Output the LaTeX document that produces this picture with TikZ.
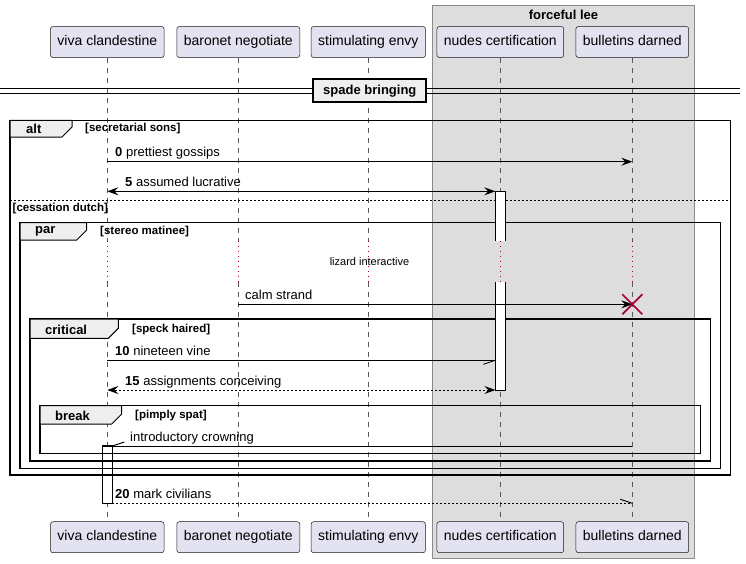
\documentclass[tikz,border=0pt]{standalone}
\usepackage{fontspec}
\setmainfont{Liberation Sans}
\usetikzlibrary{arrows.meta}

\definecolor{partfill}{HTML}{E2E2F0}
\definecolor{partline}{HTML}{181818}
\definecolor{groupfill}{HTML}{DDDDDD}
\definecolor{groupline}{HTML}{8A8A8A}
\definecolor{tabfill}{HTML}{EEEEEE}
\definecolor{crimson}{HTML}{A80036}

% lifeline positions
\def\lifeA{107.3}
\def\lifeB{238.3}
\def\lifeC{368.3}
\def\lifeD{500.3}
\def\lifeE{632.3}

\tikzset{
  pumltip/.tip={Stealth[length=11pt,width=8pt,inset=4pt]},
  participant/.style={draw=partline, fill=partfill, rounded corners=2.5pt,
    line width=0.5pt, minimum height=31pt, inner xsep=7pt, inner ysep=0pt,
    font=\fontsize{14}{16}\selectfont, text height=10pt, text depth=3pt},
  lifeline/.style={draw=black!65, line width=0.6pt, dash pattern=on 5pt off 5pt},
  delayline/.style={draw=crimson, line width=1pt, dash pattern=on 0.9pt off 4.1pt},
  msg/.style={draw=black, line width=0.9pt},
  retmsg/.style={msg, dash pattern=on 2pt off 2pt},
  barb/.style={draw=black, line width=0.9pt},
  msglabel/.style={font=\fontsize{13}{15}\selectfont, inner sep=0pt, anchor=base west},
  framebox/.style={draw=black, line width=1.5pt},
  tabshape/.style={draw=black, line width=1pt, fill=tabfill},
  framelabel/.style={font=\bfseries\fontsize{13}{15}\selectfont, inner sep=0pt, anchor=west},
  guard/.style={font=\bfseries\fontsize{11.5}{13}\selectfont, inner sep=0pt, anchor=west},
  activation/.style={fill=white},
  actedge/.style={draw=black, line width=0.9pt},
}

\begin{document}
\begin{tikzpicture}[x=1pt,y=-1pt]
\useasboundingbox (0,0) rectangle (746,563);

% box grouping the last two participants
\draw[fill=groupfill, draw=groupline, line width=0.8pt] (432.3,5.7) rectangle (694.7,558.3);
\node[font=\bfseries\fontsize{13}{15}\selectfont, inner sep=0pt] (grouptitle) at (563.5,15) {forceful lee};

% participants, top and bottom
\node[participant] (pA) at (\lifeA,42) {viva clandestine};
\node[participant] (pB) at (\lifeB,42) {baronet negotiate};
\node[participant] (pC) at (\lifeC,42) {stimulating envy};
\node[participant] (pD) at (\lifeD,42) {nudes certification};
\node[participant] (pE) at (\lifeE,42) {bulletins darned};
\node[participant] (qA) at (\lifeA,537.2) {viva clandestine};
\node[participant] (qB) at (\lifeB,537.2) {baronet negotiate};
\node[participant] (qC) at (\lifeC,537.2) {stimulating envy};
\node[participant] (qD) at (\lifeD,537.2) {nudes certification};
\node[participant] (qE) at (\lifeE,537.2) {bulletins darned};

% lifelines, with the delay drawn dotted
\foreach \p/\x in {A/\lifeA, B/\lifeB, C/\lifeC, D/\lifeD, E/\lifeE}{
  \coordinate (d\p1) at (\x,240.7);
  \coordinate (d\p2) at (\x,281.7);
  \draw[lifeline] (p\p.south) -- (d\p1);
  \draw[delayline] (d\p1) -- (d\p2);
  \draw[lifeline] (d\p2) -- (q\p.north);
}

% divider
\node[draw=black, line width=2pt, fill=tabfill, minimum width=113pt, minimum height=23pt,
      inner sep=0pt, font=\bfseries\fontsize{13}{15}\selectfont] (divider) at (369.8,90.8) {spade bringing};
\coordinate (dl1) at (0,88.3);
\coordinate (dl2) at (0,93.3);
\coordinate (dr1) at (740,88.3);
\coordinate (dr2) at (740,93.3);
\draw[line width=1.1pt] (dl1) -- (divider.west |- dl1) (dl2) -- (divider.west |- dl2);
\draw[line width=1.1pt] (divider.east |- dr1) -- (dr1) (divider.east |- dr2) -- (dr2);

% activation on viva clandestine
\draw[activation] (102.3,445.7) rectangle (112.3,503.3);
\draw[actedge] (102.3,445.7) rectangle (112.3,503.3);

% alt frame
\draw[framebox] (10,120.3) rectangle (730.7,475);
\draw[tabshape] (10,120.3) -- (72,120.3) -- (72,127) -- (62,137) -- (10,137) -- cycle;
\node[framelabel] (altlab) at (26,129) {alt};
\node[guard] (altguard) at (85,129) {[secretarial sons]};
\draw[draw=black, line width=0.9pt, dash pattern=on 2pt off 2pt] (10,200.3) -- (730.7,200.3);
\node[guard] (elseguard) at (12.5,209) {[cessation dutch]};

% par frame
\draw[framebox] (20,222.7) rectangle (720.7,468.3);
\draw[tabshape] (20,222.7) -- (86.7,222.7) -- (86.7,230) -- (76.7,240) -- (20,240) -- cycle;
\node[framelabel] (parlab) at (35,231.8) {par};
\node[guard] (parguard) at (100,231.8) {[stereo matinee]};

% critical frame
\draw[framebox] (30,319) rectangle (710.7,461);
\draw[tabshape] (30,319) -- (118.3,319) -- (118.3,328.3) -- (108.3,338.3) -- (30,338.3) -- cycle;
\node[framelabel] (critlab) at (45,329.5) {critical};
\node[guard] (critguard) at (132,329.5) {[speck haired]};

% break frame
\draw[framebox] (40,405.7) rectangle (700.7,453.3);
\draw[tabshape] (40,405.7) -- (121.7,405.7) -- (121.7,414) -- (111.7,424) -- (40,424) -- cycle;
\node[framelabel] (breaklab) at (55,415.8) {break};
\node[guard] (breakguard) at (135,415.8) {[pimply spat]};

% activation on nudes certification, split by the delay
\fill[activation] (495.3,191.3) rectangle (505.3,240.7);
\draw[actedge] (495.3,240.7) -- (495.3,191.3) -- (505.3,191.3) -- (505.3,240.7);
\fill[activation] (495.3,281.7) rectangle (505.3,390);
\draw[actedge] (495.3,281.7) -- (495.3,390) -- (505.3,390) -- (505.3,281.7);

% delay note
\node[font=\fontsize{11}{13}\selectfont, inner sep=0pt] (delay) at (369.5,262) {lizard interactive};

% messages
\coordinate (m0a) at (\lifeA,161.7);  \coordinate (m0b) at (\lifeE,161.7);
\draw[msg, -pumltip] (m0a) -- (m0b);
\node[msglabel] (l0) at (115,156.2) {\textbf{0} prettiest gossips};

\coordinate (m5a) at (\lifeA,191.3);  \coordinate (m5b) at (495.3,191.3);
\draw[msg, pumltip-pumltip] (m5a) -- (m5b);
\node[msglabel] (l5) at (125,186.3) {\textbf{5} assumed lucrative};

\coordinate (mca) at (\lifeB,304.3);  \coordinate (mcb) at (\lifeE,304.3);
\draw[msg, -pumltip] (mca) -- (mcb);
\node[msglabel] (lc) at (245,299.3) {calm strand};
\draw[crimson, line width=1.7pt] (mcb) +(-10,-10) -- +(10,10) (mcb) +(-10,10) -- +(10,-10);

\coordinate (m10a) at (\lifeA,360.3); \coordinate (m10b) at (495.3,360.3);
\draw[msg] (m10a) -- (m10b);
\draw[barb] (m10b) -- ++(-12,4);
\node[msglabel] (l10) at (115,355.3) {\textbf{10} nineteen vine};

\coordinate (m15a) at (495.3,390);    \coordinate (m15b) at (\lifeA,390);
\draw[retmsg, pumltip-pumltip] (m15a) -- (m15b);
\node[msglabel] (l15) at (125,385) {\textbf{15} assignments conceiving};

\coordinate (mia) at (\lifeE,446);    \coordinate (mib) at (112.3,446);
\draw[msg] (mia) -- (mib);
\draw[barb] (mib) -- ++(12,-4);
\node[msglabel] (li) at (130,441) {introductory crowning};

\coordinate (m20a) at (112.3,503.3);  \coordinate (m20b) at (\lifeE,503.3);
\draw[retmsg] (m20a) -- (m20b);
\draw[barb] (m20b) -- ++(-12,-4);
\node[msglabel] (l20) at (115,498.3) {\textbf{20} mark civilians};

\end{tikzpicture}
\end{document}
